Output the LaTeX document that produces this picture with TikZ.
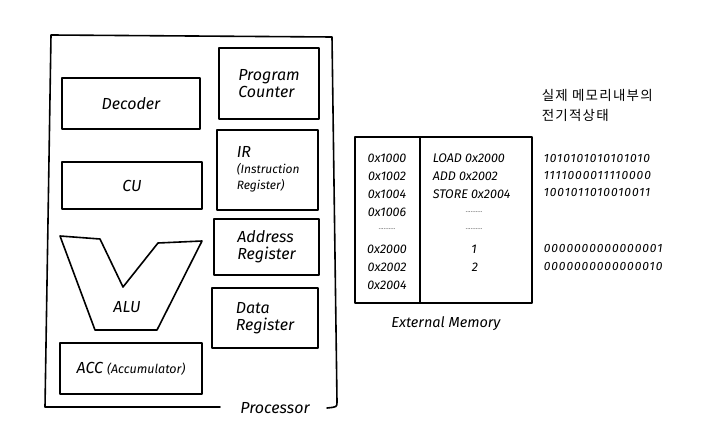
\documentclass[tikz,border=0pt]{standalone}
\usepackage{fontspec}
\setmainfont{Fira Sans}
\newfontfamily\kr[LetterSpace=9]{Noto Sans CJK KR}
\newfontfamily\bits[LetterSpace=8]{Fira Sans}
\begin{document}
\begin{tikzpicture}[x=1pt,y=-1pt,
  line width=1.6pt, line join=round, line cap=round,
  box/.style={draw, inner sep=0pt, font=\itshape\fontsize{16}{19}\selectfont, align=left},
  lbl/.style={font=\itshape\fontsize{16}{19}\selectfont, align=left, inner sep=0pt},
  memtxt/.style={font=\itshape\fontsize{12.5}{14}\selectfont, inner sep=0pt},
  bittxt/.style={font=\bits\itshape\fontsize{12}{14}\selectfont, inner sep=0pt, anchor=west},
  dots/.style={font=\fontsize{7}{8}\selectfont, text=black!60, inner sep=0pt}]
\useasboundingbox (0,0) rectangle (717,446);
% Processor frame
\coordinate (pa) at (220,407);
\coordinate (pb) at (45,407);
\coordinate (pc) at (51,35);
\coordinate (pd) at (332,37);
\coordinate (pe) at (337,402);
\coordinate (pf) at (327,408);
\draw (pa) -- (pb) -- (pc) -- (pd) -- (pe) .. controls (337,407) .. (pf);
\node[font=\itshape\fontsize{16}{18}\selectfont, inner sep=0pt] (proc) at (275,408) {Processor};
% left column
\node[box, minimum width=138pt, minimum height=51pt] (dec) at (131,103.5) {Decoder};
\node[box, minimum width=140pt, minimum height=47pt] (cu) at (132,185.5) {CU};
\coordinate (a1) at (60,236);
\coordinate (a2) at (100,239);
\coordinate (a3) at (123,287);
\coordinate (a4) at (158,243);
\coordinate (a5) at (202,241);
\coordinate (a6) at (157,330);
\coordinate (a7) at (95,330);
\draw (a1) -- (a2) -- (a3) -- (a4) -- (a5) -- (a6) -- (a7) -- cycle;
\node[lbl] (alu) at (127,307) {ALU};
\node[box, minimum width=142pt, minimum height=51pt] (acc) at (131,368.5) {ACC {\fontsize{12.5}{14}\selectfont(Accumulator)}};
% right column
\node[box, minimum width=100pt, minimum height=71pt] (pc) at (269,83.5) {Program\\[-2pt]Counter};
\node[box, minimum width=101pt, minimum height=80pt] (ir) at (267.5,170) {};
\node[lbl, anchor=north west] (irt) at (236,146) {IR\\[-3pt]{\fontsize{12}{13}\selectfont(Instruction}\\[-3pt]{\fontsize{12}{13}\selectfont Register)}};
\node[box, minimum width=105pt, minimum height=56pt] (ar) at (266.5,247) {Address\\[-2pt]Register};
\node[box, minimum width=106pt, minimum height=60pt] (dr) at (265,318) {Data\\[-2pt]Register};
% external memory
\node[draw, inner sep=0pt, minimum width=177pt, minimum height=166pt] (mem) at (443.5,220) {};
\coordinate (dv1) at (420,137);
\coordinate (dv2) at (420,303);
\draw (dv1) -- (dv2);
\node[font=\itshape\fontsize{14.5}{16}\selectfont, inner sep=0pt] (memlbl) at (446,324) {External Memory};
\node[memtxt] (m1) at (387,158) {0x1000};
\node[memtxt] (m2) at (387,176) {0x1002};
\node[memtxt] (m3) at (387,194) {0x1004};
\node[memtxt] (m4) at (387,212) {0x1006};
\node[dots] (m5) at (387,229) {..........};
\node[memtxt] (m6) at (387,249) {0x2000};
\node[memtxt] (m7) at (387,267) {0x2002};
\node[memtxt] (m8) at (387,285) {0x2004};
\node[memtxt, anchor=west] (c1) at (432,158) {LOAD 0x2000};
\node[memtxt, anchor=west] (c2) at (432,176) {ADD 0x2002};
\node[memtxt, anchor=west] (c3) at (432,194) {STORE 0x2004};
\node[dots] (c4) at (474,212) {..........};
\node[dots] (c5) at (474,229) {..........};
\node[memtxt] (c6) at (474,249) {1};
\node[memtxt] (c7) at (475,267) {2};
% korean note
\node[font=\kr\fontsize{13.5}{16}\selectfont, inner sep=0pt, anchor=west] (k1) at (541,95) {실제 메모리내부의};
\node[font=\kr\fontsize{13.5}{16}\selectfont, inner sep=0pt, anchor=west] (k2) at (541,115) {전기적상태};
\node[bittxt] (b1) at (543,158) {1010101010101010};
\node[bittxt] (b2) at (543,175) {1111000011110000};
\node[bittxt] (b3) at (543,192) {1001011010010011};
\node[bittxt] (b4) at (543,248) {0000000000000001};
\node[bittxt] (b5) at (543,266) {0000000000000010};
\end{tikzpicture}
\end{document}
